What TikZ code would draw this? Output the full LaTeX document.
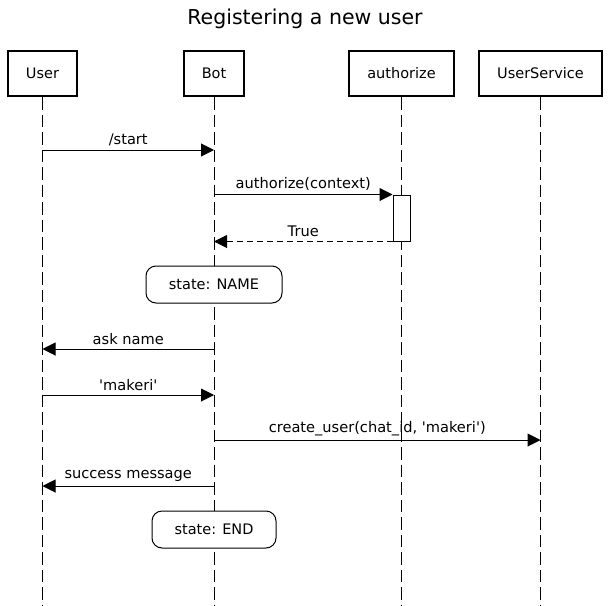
\documentclass[tikz,border=0pt]{standalone}
\usepackage{fontspec}
\setmainfont{DejaVu Sans}[Ligatures=TeXOff]
\usepackage{tikz}
\usetikzlibrary{positioning,arrows.meta}

\begin{document}
\begin{tikzpicture}[x=1pt, y=-1pt,
  participant/.style={draw, line width=2pt, fill=white, minimum height=45pt, inner sep=0pt, font=\fontsize{14.5}{16}\selectfont},
  lifeline/.style={line width=1pt, dash pattern=on 12.5pt off 5pt},
  msg/.style={line width=1pt, -{Triangle[length=13pt,width=13pt]}},
  reply/.style={msg, dash pattern=on 6pt off 4pt},
  state/.style={draw, line width=1pt, fill=white, rounded corners=10pt, minimum height=37pt, inner sep=0pt, font=\fontsize{14.5}{16}\selectfont},
  lbl/.style={midway, above=4pt, inner sep=0pt, font=\fontsize{14.6}{16}\selectfont}]
\useasboundingbox (0,0) rectangle (610,605);

\node[font=\fontsize{20.5}{24}\selectfont] (title) at (305,19) {Registering a new user};

\node[participant, minimum width=69pt] (user) at (42.5,73.5) {User};
\node[participant, minimum width=60pt] (bot) at (214,73.5) {Bot};
\node[participant, minimum width=105pt] (authorize) at (401.5,73.5) {authorize};
\node[participant, minimum width=123pt] (userservice) at (540.5,73.5) {UserService};

% rows
\coordinate (bottom) at (0,605);
\coordinate (row1) at (0,150);
\coordinate (row2) at (0,349);
\coordinate (row3) at (0,395);
\coordinate (row4) at (0,440);
\coordinate (row5) at (0,486);

% lifelines
\draw[lifeline] (user.south) -- (user |- bottom);
\draw[lifeline] (bot.south) -- (bot |- bottom);
\draw[lifeline] (authorize.south) -- (authorize |- bottom);
\draw[lifeline] (userservice.south) -- (userservice |- bottom);

\node[draw, line width=1pt, fill=white, minimum width=17pt, minimum height=46pt, inner sep=0pt] (act) at (401.5,218) {};

\node[state, minimum width=136pt] (state_name) at (214,284.5) {state: NAME};
\node[state, minimum width=124pt] (state_end) at (214,529.5) {state: END};

\draw[msg] (user |- row1) -- (bot |- row1)
    node[lbl] {/start};
\draw[msg] (bot |- act.north) -- (act.north west)
    node[lbl] {authorize(context)};
\draw[reply] (act.south west) -- (bot |- act.south)
    node[lbl] {True};
\draw[msg] (bot |- row2) -- (user |- row2)
    node[lbl] {ask name};
\draw[msg] (user |- row3) -- (bot |- row3)
    node[lbl] {'makeri'};
\draw[msg] (bot |- row4) -- (userservice |- row4)
    node[lbl] {create\_user(chat\_id, 'makeri')};
\draw[msg] (bot |- row5) -- (user |- row5)
    node[lbl] {success message};

\end{tikzpicture}
\end{document}
